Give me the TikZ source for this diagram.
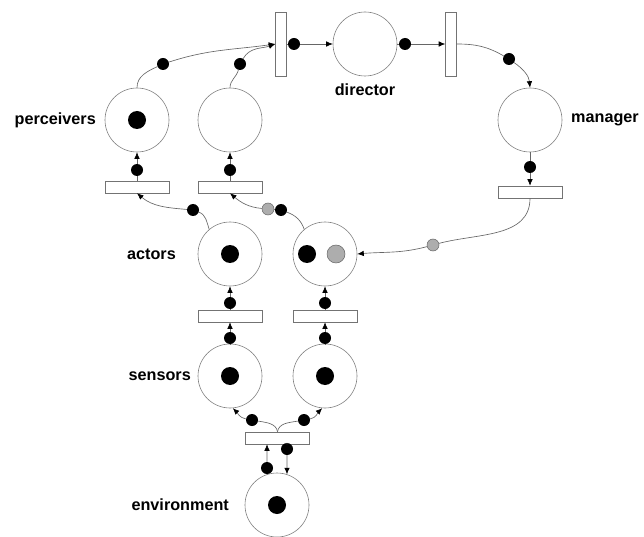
\documentclass[tikz,border=0pt]{standalone}
\usepackage{fontspec}
\setmainfont{Liberation Sans}
\usetikzlibrary{arrows.meta}
\begin{document}
\begin{tikzpicture}[x=1pt,y=1pt,
  place/.style={circle,draw=black!50,line width=0.6pt,minimum size=64pt,inner sep=0pt},
  htrans/.style={rectangle,draw=black!55,line width=0.6pt,minimum width=64pt,minimum height=12pt,inner sep=0pt},
  vtrans/.style={rectangle,draw=black!55,line width=0.6pt,minimum width=11pt,minimum height=64pt,inner sep=0pt},
  token/.style={circle,fill=black,minimum size=18pt,inner sep=0pt},
  greytoken/.style={circle,fill=black!32,draw=black!60,line width=0.5pt,minimum size=18pt,inner sep=0pt},
  dotb/.style={circle,fill=black,minimum size=12pt,inner sep=0pt},
  dotg/.style={circle,fill=black!32,draw=black!60,line width=0.5pt,minimum size=12pt,inner sep=0pt},
  arc/.style={draw=black!60,line width=0.65pt},
  tip/.style={-{Latex[length=6.5pt,width=5.5pt,color=black]}},
  lbl/.style={inner sep=0pt,font=\bfseries\fontsize{16.2}{19}\selectfont}
]
\useasboundingbox (0,0) rectangle (644,536);

% places
\node[place] (perc) at (137,416) {};
\node[place] (p2)   at (230,416) {};
\node[place] (dir)  at (365,492) {};
\node[place] (mgr)  at (530,416) {};
\node[place] (act1) at (230,282) {};
\node[place] (act2) at (325,282) {};
\node[place] (sen1) at (230,160) {};
\node[place] (sen2) at (325,160) {};
\node[place] (env)  at (277,31) {};

% transitions
\node[vtrans] (tl)  at (281,492) {};
\node[vtrans] (tr)  at (451,492) {};
\node[htrans] (tm)  at (530,344) {};
\node[htrans] (tp1) at (137,349) {};
\node[htrans] (tp2) at (230,349) {};
\node[htrans] (ta1) at (230,220) {};
\node[htrans] (ta2) at (325,220) {};
\node[htrans] (te)  at (277.5,98) {};

% marking
\node[token] (k1) at (137,416) {};
\node[token] (k2) at (230,282) {};
\node[token] (k3) at (307,282) {};
\node[greytoken] (k4) at (336,282) {};
\node[token] (k5) at (230,160) {};
\node[token] (k6) at (325,160) {};
\node[token] (k7) at (277,31) {};

% tokens travelling on the arcs
\node[dotb] (d1)  at (163,472) {};
\node[dotb] (d2)  at (240,472) {};
\node[dotb] (d3)  at (294,492) {};
\node[dotb] (d4)  at (405,492) {};
\node[dotb] (d5)  at (509,477) {};
\node[dotb] (d6)  at (530,369) {};
\node[dotg] (d7)  at (433,291) {};
\node[dotb] (d8)  at (137,366) {};
\node[dotb] (d9)  at (230,366) {};
\node[dotb] (d10) at (193,326) {};
\node[dotb] (d11) at (281,326) {};
\node[dotg] (d11g) at (268,327) {};
\node[dotb] (d12) at (230,233) {};
\node[dotb] (d13) at (325,233) {};
\node[dotb] (d14) at (230,198) {};
\node[dotb] (d15) at (325,198) {};
\node[dotb] (d16) at (252,116) {};
\node[dotb] (d17) at (304,116) {};
\node[dotb] (d18) at (267,68) {};
\node[dotb] (d19) at (287,87) {};

% labels
\node[lbl,anchor=east] (lperc) at (96,416) {perceivers};
\node[lbl] (ldir) at (365,446) {director};
\node[lbl,anchor=west] (lmgr) at (571,416) {manager};
\node[lbl,anchor=east] (lact) at (176,282) {actors};
\node[lbl,anchor=east] (lsen) at (191,160) {sensors};
\node[lbl,anchor=east] (lenv) at (229,31) {environment};

% arcs
\draw[arc,tip] (perc.north) to[out=90,in=205] (d1) to[out=18,in=188] (tl.west);
\draw[arc,tip] (p2.north) to[out=90,in=255] (d2) to[out=60,in=200] (tl.west);
\draw[arc,tip] (tl.east) -- (d3) -- (dir.west);
\draw[arc,tip] (dir.east) -- (d4) -- (tr.west);
\draw[arc,tip] (tr.east) to[out=0,in=150] (d5) to[out=-35,in=95] (mgr.north);
\draw[arc,tip] (mgr.south) -- (d6) -- (tm.north);
\draw[arc,tip] (tm.south) to[out=-90,in=15] (d7) to[out=195,in=5] (act2.east);
\draw[arc,tip] (tp1.north) -- (d8) -- (perc.south);
\draw[arc,tip] (tp2.north) -- (d9) -- (p2.south);
\draw[arc,tip] (act1.130) to[out=110,in=-20] (d10) to[out=175,in=-40] (tp1.south);
\draw[arc,tip] (act2.130) to[out=110,in=-20] (d11) -- (d11g) to[out=175,in=-40] (tp2.south);
\draw[arc,tip] (ta1.north) -- (d12) -- (act1.south);
\draw[arc,tip] (ta2.north) -- (d13) -- (act2.south);
\draw[arc,tip] (sen1.north) -- (d14) -- (ta1.south);
\draw[arc,tip] (sen2.north) -- (d15) -- (ta2.south);
\draw[arc,tip] (te.north) to[out=100,in=-10] (d16) to[out=170,in=-45] (sen1.-85);
\draw[arc,tip] (te.north) to[out=80,in=190] (d17) to[out=10,in=-135] (sen2.-95);
\draw[arc,tip] (env.108) -- (d18) -- (d18 |- te.south);
\draw[arc,tip] (d19 |- te.south) -- (d19) -- (env.72);
\end{tikzpicture}
\end{document}
